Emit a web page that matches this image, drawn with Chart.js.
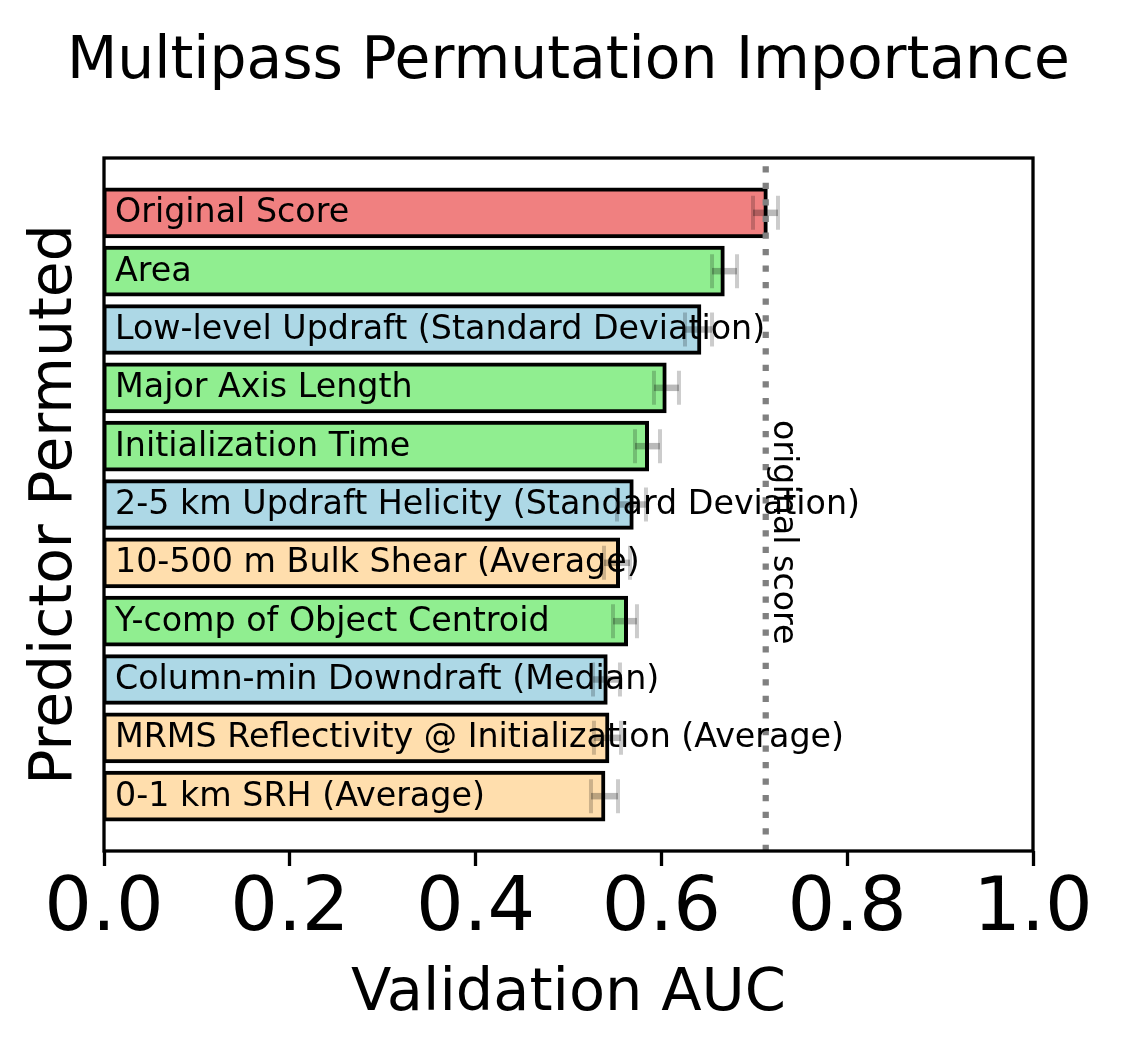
<!DOCTYPE html>
<html>
<head>
<meta charset="utf-8">
<script src="https://cdn.jsdelivr.net/npm/chart.js@4.4.0/dist/chart.umd.min.js"></script>
<style>
html,body{margin:0;padding:0;background:#fff;}
#wrap{width:1123px;height:1057px;}
</style>
</head>
<body>
<div id="wrap"><canvas id="c" width="1123" height="1057"></canvas></div>
<script>
// ---- data ----
const chartTitle = 'Multipass Permutation Importance';
const xAxisTitle = 'Validation AUC';
const yAxisTitle = 'Predictor Permuted';
const refLineLabel = 'original score';
const predictors = [
  'Original Score',
  'Area',
  'Low-level Updraft (Standard Deviation)',
  'Major Axis Length',
  'Initialization Time',
  '2-5 km Updraft Helicity (Standard Deviation)',
  '10-500 m Bulk Shear (Average)',
  'Y-comp of Object Centroid',
  'Column-min Downdraft (Median)',
  'MRMS Reflectivity @ Initialization (Average)',
  '0-1 km SRH (Average)'
];
const groups = ['original','storm','intra','storm','storm','intra','env','storm','intra','env','env'];
const aucValues = [0.7123, 0.6660, 0.6408, 0.6035, 0.5845, 0.5680, 0.5533, 0.5619, 0.5400, 0.5418, 0.5375];
const errLow  = [0.6986, 0.6545, 0.6254, 0.5920, 0.5716, 0.5522, 0.5382, 0.5479, 0.5264, 0.5274, 0.5242];
const errHigh = [0.7255, 0.6814, 0.6545, 0.6189, 0.5985, 0.5834, 0.5662, 0.5737, 0.5554, 0.5565, 0.5533];
const xTicks = [0.0, 0.2, 0.4, 0.6, 0.8, 1.0];

// ---- styles ----
const FONT = "'DejaVu Sans', sans-serif";
const groupColors = {original:'#F08080', storm:'#90EE90', intra:'#ADD8E6', env:'#FFDEAD'};

const overlay = {
  id: 'overlay',
  afterDatasetsDraw(chart) {
    const {ctx, chartArea: a, scales: {x, y}} = chart;
    ctx.save();
    // reference dotted line at original score
    const xr = x.getPixelForValue(aucValues[0]);
    ctx.strokeStyle = '#808080';
    ctx.lineWidth = 6.25;
    ctx.lineCap = 'butt';
    ctx.setLineDash([6.25, 10.3]);
    ctx.beginPath();
    ctx.moveTo(xr, a.bottom);
    ctx.lineTo(xr, a.top);
    ctx.stroke();
    ctx.setLineDash([]);
    // error bars
    predictors.forEach((p, i) => {
      const yc = y.getPixelForValue(i);
      const x0 = x.getPixelForValue(errLow[i]);
      const x1 = x.getPixelForValue(errHigh[i]);
      ctx.strokeStyle = 'rgba(0,0,0,0.27)';
      ctx.lineWidth = 6.5;
      ctx.beginPath(); ctx.moveTo(x0, yc); ctx.lineTo(x1, yc); ctx.stroke();
      ctx.strokeStyle = 'rgba(0,0,0,0.2)';
      ctx.lineWidth = 4;
      ctx.beginPath();
      ctx.moveTo(x0, yc - 17); ctx.lineTo(x0, yc + 17);
      ctx.moveTo(x1, yc - 17); ctx.lineTo(x1, yc + 17);
      ctx.stroke();
    });
    // frame
    ctx.strokeStyle = '#000';
    ctx.lineWidth = 3.3;
    ctx.strokeRect(a.left, a.top, a.right - a.left, a.bottom - a.top);
    // bar labels
    ctx.fillStyle = '#000';
    ctx.font = '33.3px ' + FONT;
    ctx.textAlign = 'left';
    ctx.textBaseline = 'middle';
    predictors.forEach((p, i) => {
      ctx.fillText(p, x.getPixelForValue(0) + 11, y.getPixelForValue(i) + 1);
    });
    // title
    ctx.font = '58.3px ' + FONT;
    ctx.textAlign = 'center';
    ctx.textBaseline = 'alphabetic';
    ctx.fillText(chartTitle, (a.left + a.right) / 2, 78);
    // rotated reference label
    ctx.font = '33.3px ' + FONT;
    ctx.textAlign = 'left';
    ctx.translate(xr + 8.3, a.top + 262);
    ctx.rotate(Math.PI / 2);
    ctx.fillText(refLineLabel, 0, 0);
    ctx.restore();
  }
};

new Chart(document.getElementById('c'), {
  type: 'bar',
  data: {
    datasets: [{
      data: aucValues.map((v, i) => ({x: v, y: i})),
      backgroundColor: groups.map(g => groupColors[g]),
      borderColor: '#000',
      borderWidth: 4,
      inflateAmount: 2,
      borderSkipped: false,
      categoryPercentage: 0.8,
      barPercentage: 1
    }]
  },
  options: {
    indexAxis: 'y',
    responsive: false,
    animation: false,
    devicePixelRatio: 1,
    events: [],
    layout: {padding: {top: 158, right: 90, left: 0, bottom: 0}},
    plugins: {legend: {display: false}, tooltip: {enabled: false}, title: {display: false}},
    scales: {
      x: {
        type: 'linear', position: 'bottom', min: 0, max: 1,
        afterBuildTicks: s => { s.ticks = xTicks.map(v => ({value: v})); },
        ticks: {
          font: {family: FONT, size: 75}, color: '#000', padding: 0,
          maxRotation: 0, autoSkip: false,
          callback: v => Number(v).toFixed(1)
        },
        grid: {drawOnChartArea: false, drawTicks: true, tickLength: 15, tickWidth: 3.3, tickColor: '#000'},
        border: {display: false},
        title: {display: true, text: xAxisTitle, font: {family: FONT, size: 59}, color: '#000', padding: {top: 0, bottom: 27}},
        afterFit: s => { s.height = 206; }
      },
      y: {
        type: 'linear', position: 'left', min: -0.94, max: 10.94, reverse: true,
        offset: false, bounds: 'data',
        afterBuildTicks: s => { s.ticks = predictors.map((_, i) => ({value: i})); },
        ticks: {display: false},
        grid: {display: false, offset: false},
        border: {display: false},
        title: {display: true, text: yAxisTitle, font: {family: FONT, size: 58.3}, color: '#000', padding: {top: 21, bottom: 0}},
        afterFit: s => { s.width = 104; }
      }
    }
  },
  plugins: [overlay]
});
</script>
</body>
</html>
